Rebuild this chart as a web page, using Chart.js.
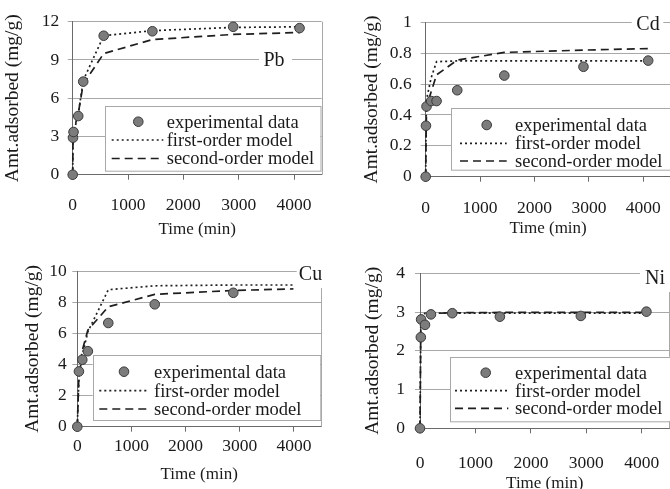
<!DOCTYPE html>
<html>
<head>
<meta charset="utf-8">
<script src="https://cdn.jsdelivr.net/npm/chart.js@4.4.1/dist/chart.umd.min.js"></script>
<style>
html, body { margin: 0; padding: 0; background: #fff; overflow: hidden; width: 670px; height: 489px; }
canvas { position: absolute; }
</style>
</head>
<body>
<canvas id="pbChart" width="335" height="245" style="left:0;top:0"></canvas>
<canvas id="cdChart" width="345" height="245" style="left:335px;top:0"></canvas>
<canvas id="cuChart" width="335" height="244" style="left:0;top:245px"></canvas>
<canvas id="niChart" width="345" height="260" style="left:335px;top:245px"></canvas>
<script>
// ==================== DATA ====================
const legendLabels = ['experimental data', 'first-order model', 'second-order model'];
const xTitle = 'Time (min)';
const yTitle = 'Amt.adsorbed (mg/g)';
const xTickValues = [0, 1000, 2000, 3000, 4000];

// Pb
const pbTime   = [0, 5, 15, 100, 190, 560, 1440, 2900, 4100];
const pbExp    = [0, 2.9, 3.35, 4.6, 7.3, 10.9, 11.25, 11.6, 11.5];
const pbFirst  = [0, 2.6, 3.3, 4.7, 7.4, 10.9, 11.3, 11.55, 11.6];
const pbSecond = [0, 2.7, 3.4, 4.8, 7.1, 9.5, 10.6, 11.0, 11.15];
const pbYTicks = [0, 3, 6, 9, 12];

// Cd
const cdTime   = [0, 5, 15, 100, 200, 580, 1445, 2900, 4090];
const cdExp    = [0, 0.33, 0.455, 0.49, 0.49, 0.56, 0.655, 0.712, 0.752];
const cdFirst  = [0, 0.3, 0.5, 0.64, 0.745, 0.75, 0.75, 0.75, 0.75];
const cdSecond = [0, 0.2, 0.45, 0.55, 0.66, 0.755, 0.805, 0.82, 0.83];
const cdYTicks = [0, 0.2, 0.4, 0.6, 0.8, 1];

// Cu (experiment stops at 2880, models run to ~4000)
const cuTime      = [0, 30, 92, 195, 572, 1430, 2880];
const cuExp       = [0, 3.55, 4.3, 4.85, 6.66, 7.86, 8.6];
const cuModelTime = [0, 30, 92, 195, 572, 1430, 2880, 3990];
const cuFirst     = [0, 3.2, 4.6, 6.1, 8.8, 9.05, 9.1, 9.1];
const cuSecond    = [0, 3.4, 4.9, 6.2, 7.7, 8.5, 8.75, 8.85];
const cuYTicks    = [0, 2, 4, 6, 8, 10];

// Ni
const niTime      = [0, 15, 20, 90, 198, 582, 1441, 2901, 4084];
const niExp       = [0, 2.35, 2.81, 2.67, 2.94, 2.97, 2.88, 2.9, 3.01];
const niModelTime = [0, 15, 90, 198, 582, 1441, 2901, 4084];
const niFirst     = [0, 2.8, 2.97, 2.97, 2.97, 2.97, 2.97, 2.97];
const niSecond    = [0, 2.75, 2.93, 2.96, 2.98, 2.99, 2.99, 2.99];
const niYTicks    = [0, 1, 2, 3, 4];

// ==================== STYLE ====================
const FONT = '"Liberation Serif", "Times New Roman", serif';
const TEXT = '#1a1a1a';
const GRID = '#a8a8a8';
const AXIS = '#6a6a6a';
const LINE = '#1e1e1e';

function toPoints(xs, ys) {
    return xs.map((x, i) => ({ x: x, y: ys[i] }));
}

// draws the inline legend box, the metal label and the right frame line
function decorPlugin(layout) {
    return {
        id: 'decor',
        beforeDatasetsDraw(chart) {
            const { ctx, chartArea } = chart;
            ctx.save();
            ctx.strokeStyle = GRID;
            ctx.lineWidth = 1;
            const rx = Math.round(chartArea.right) + 0.5;
            ctx.beginPath();
            ctx.moveTo(rx, chartArea.top);
            ctx.lineTo(rx, chartArea.bottom);
            ctx.stroke();
            ctx.restore();
        },
        afterDatasetsDraw(chart) {
            const ctx = chart.ctx;
            const L = layout.legend;
            ctx.save();

            // legend box
            ctx.fillStyle = '#fff';
            ctx.fillRect(L.x, L.y, L.w, L.h);
            ctx.strokeStyle = GRID;
            ctx.lineWidth = 1;
            ctx.strokeRect(Math.round(L.x) + 0.5, Math.round(L.y) + 0.5, L.w, L.h);

            // markers
            ctx.fillStyle = '#7c7c7c';
            ctx.strokeStyle = '#3a3a3a';
            ctx.beginPath();
            ctx.arc(L.markX, L.rows[0], 4.8, 0, Math.PI * 2);
            ctx.fill();
            ctx.stroke();

            ctx.strokeStyle = LINE;
            ctx.lineWidth = 1.7;
            ctx.setLineDash([2, 3]);
            ctx.beginPath();
            ctx.moveTo(L.lineX[0], L.rows[1]);
            ctx.lineTo(L.lineX[1], L.rows[1]);
            ctx.stroke();
            ctx.setLineDash([8, 5]);
            ctx.beginPath();
            ctx.moveTo(L.lineX[0], L.rows[2]);
            ctx.lineTo(L.lineX[1], L.rows[2]);
            ctx.stroke();
            ctx.setLineDash([]);

            ctx.fillStyle = TEXT;
            ctx.font = '18.5px ' + FONT;
            ctx.textBaseline = 'middle';
            ctx.textAlign = 'left';
            legendLabels.forEach((label, i) => ctx.fillText(label, L.textX, L.rows[i] + 1));

            // metal label sitting on a gridline
            const N = layout.name;
            ctx.fillStyle = '#fff';
            ctx.fillRect(N.gap[0], N.cy - 13, N.gap[1] - N.gap[0], 27);
            ctx.fillStyle = TEXT;
            ctx.font = '20px ' + FONT;
            ctx.textAlign = 'center';
            ctx.fillText(N.text, N.cx, N.cy + 1);
            ctx.restore();
        }
    };
}

function createPanel(canvasId, series, layout) {
    const ctx = document.getElementById(canvasId).getContext('2d');
    const W = ctx.canvas.width;
    const H = ctx.canvas.height;
    const area = layout.area;
    const yTicks = series.yTicks;

    return new Chart(ctx, {
        type: 'scatter',
        data: {
            datasets: [
                {
                    label: legendLabels[0],
                    data: toPoints(series.time, series.exp),
                    showLine: false,
                    pointRadius: 4.8,
                    pointBackgroundColor: '#7c7c7c',
                    pointBorderColor: '#3a3a3a',
                    pointBorderWidth: 1,
                    clip: false,
                    order: 0
                },
                {
                    label: legendLabels[1],
                    data: toPoints(series.modelTime, series.first),
                    showLine: true,
                    pointRadius: 0,
                    borderColor: LINE,
                    borderWidth: 1.7,
                    borderDash: [2, 3],
                    tension: 0,
                    clip: false,
                    order: 1
                },
                {
                    label: legendLabels[2],
                    data: toPoints(series.modelTime, series.second),
                    showLine: true,
                    pointRadius: 0,
                    borderColor: LINE,
                    borderWidth: 1.7,
                    borderDash: [8, 5],
                    tension: 0,
                    clip: false,
                    order: 2
                }
            ]
        },
        options: {
            responsive: false,
            animation: false,
            layout: {
                padding: { top: area.top, right: W - area.right, left: 0, bottom: 0 }
            },
            plugins: {
                legend: { display: false },
                tooltip: { enabled: false }
            },
            scales: {
                x: {
                    type: 'linear',
                    min: 0,
                    max: 4500,
                    afterBuildTicks: scale => { scale.ticks = xTickValues.map(v => ({ value: v })); },
                    ticks: {
                        autoSkip: false,
                        color: TEXT,
                        font: { family: FONT, size: 17.5 },
                        padding: layout.xTickPad,
                        maxRotation: 0,
                        callback: value => String(value)
                    },
                    grid: { drawOnChartArea: false, drawTicks: true, tickLength: 5, tickColor: AXIS },
                    border: { color: AXIS, width: 1 },
                    title: {
                        display: true,
                        text: xTitle,
                        color: TEXT,
                        font: { family: FONT, size: 17 },
                        padding: { top: 0, bottom: layout.xTitlePad }
                    },
                    afterFit: scale => { scale.height = H - area.bottom; }
                },
                y: {
                    type: 'linear',
                    min: yTicks[0],
                    max: yTicks[yTicks.length - 1],
                    afterBuildTicks: scale => { scale.ticks = yTicks.map(v => ({ value: v })); },
                    ticks: {
                        autoSkip: false,
                        color: TEXT,
                        font: { family: FONT, size: 17.5 },
                        padding: layout.yTickPad,
                        callback: value => String(value)
                    },
                    grid: { color: GRID, tickLength: 5, tickColor: GRID },
                    border: { color: AXIS, width: 1 },
                    title: {
                        display: true,
                        text: yTitle,
                        color: TEXT,
                        font: { family: FONT, size: 19.5 },
                        padding: { top: layout.yTitlePad, bottom: 0 }
                    },
                    afterFit: scale => { scale.width = area.left; }
                }
            }
        },
        plugins: [decorPlugin(layout)]
    });
}

// ==================== PANELS ====================
createPanel('pbChart',
    { time: pbTime, exp: pbExp, modelTime: pbTime, first: pbFirst, second: pbSecond, yTicks: pbYTicks },
    {
        area: { left: 72.7, right: 321.7, top: 21.7, bottom: 174.7 },
        xTickPad: 15.2, xTitlePad: 5.5, yTickPad: 8.4, yTitlePad: 1.3,
        legend: { x: 105, y: 106, w: 215.5, h: 64.7, rows: [121.7, 140, 158.5], markX: 138.3, lineX: [111.7, 163.3], textX: 166.7 },
        name: { text: 'Pb', cx: 274, cy: 60, gap: [259, 292] }
    });

createPanel('cdChart',
    { time: cdTime, exp: cdExp, modelTime: cdTime, first: cdFirst, second: cdSecond, yTicks: cdYTicks },
    {
        area: { left: 90.7, right: 335.5, top: 22.3, bottom: 176.7 },
        xTickPad: 16.2, xTitlePad: 6.5, yTickPad: 9, yTitlePad: 24.7,
        legend: { x: 116, y: 108.3, w: 240, h: 61.7, rows: [125, 143.3, 161], markX: 151.7, lineX: [125, 171.7], textX: 180 },
        name: { text: 'Cd', cx: 313, cy: 24, gap: [296.7, 328.3] }
    });

createPanel('cuChart',
    { time: cuTime, exp: cuExp, modelTime: cuModelTime, first: cuFirst, second: cuSecond, yTicks: cuYTicks },
    {
        area: { left: 77.3, right: 321, top: 26, bottom: 181.7 },
        xTickPad: 4.6, xTitlePad: 3.8, yTickPad: 5.6, yTitlePad: 21.3,
        legend: { x: 92.7, y: 110, w: 227.3, h: 65, rows: [126.7, 145.7, 164], markX: 124, lineX: [99.3, 148.3], textX: 154 },
        name: { text: 'Cu', cx: 310.5, cy: 29, gap: [296.7, 330] }
    });

createPanel('niChart',
    { time: niTime, exp: niExp, modelTime: niModelTime, first: niFirst, second: niSecond, yTicks: niYTicks },
    {
        area: { left: 85, right: 334.8, top: 28.3, bottom: 183.3 },
        xTickPad: 19.6, xTitlePad: 11.5, yTickPad: 10, yTitlePad: 26.3,
        legend: { x: 115, y: 111.7, w: 240, h: 64.3, rows: [127.7, 145.7, 163.3], markX: 150.7, lineX: [120, 173.3], textX: 180 },
        name: { text: 'Ni', cx: 320, cy: 33, gap: [305, 336] }
    });
</script>
</body>
</html>
